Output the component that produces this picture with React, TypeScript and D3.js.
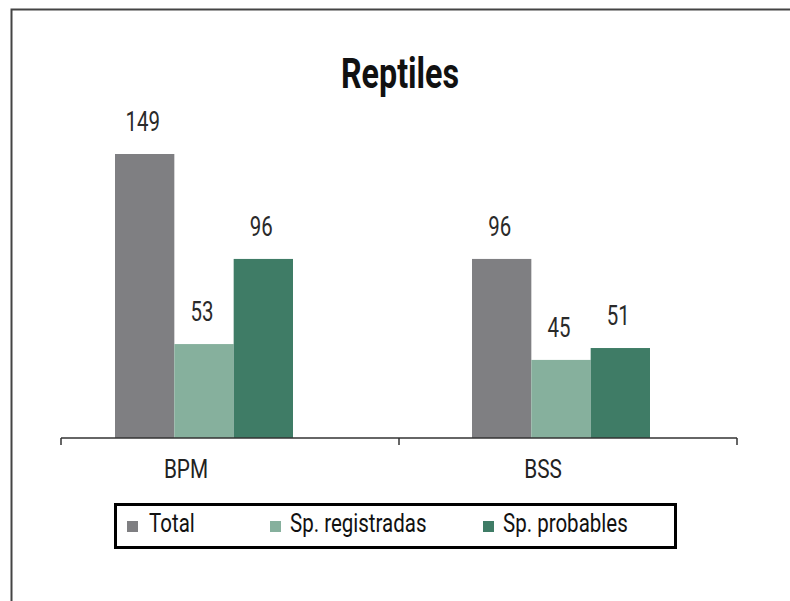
import React from "react";
import * as d3 from "d3";

const categories = ["BPM", "BSS"];
const seriesNames = ["Total", "Sp. registradas", "Sp. probables"];
const totalValues = [149, 96];
const registradasValues = [53, 45];
const probablesValues = [96, 51];
const seriesColors = ["#7f7f82", "#86b09d", "#3f7c66"];
const chartTitle = "Reptiles";

const W = 790;
const H = 601;
const FONT = "Roboto, 'Liberation Sans', sans-serif";

function CText(props: {
  x: number;
  y: number;
  sx: number;
  size: number;
  anchor?: string;
  weight?: string;
  fill?: string;
  children: React.ReactNode;
}) {
  return (
    <text
      transform={`translate(${props.x},${props.y}) scale(${props.sx},1)`}
      textAnchor={props.anchor || "start"}
      fontFamily={FONT}
      fontSize={props.size}
      fontWeight={props.weight || "normal"}
      fill={props.fill || "#222"}
    >
      {props.children}
    </text>
  );
}

export default function App() {
  const baseY = 438;
  const y = d3.scaleLinear().domain([0, 149]).range([449, 154]);
  const axisX = d3.scaleBand<string>().domain(categories).range([61, 737]);
  const groupX = d3.scaleBand<string>().domain(categories).range([115, 829]);
  const barX = d3.scaleBand<string>().domain(seriesNames).range([0, 178]);
  const values = [totalValues, registradasValues, probablesValues];

  const ticks = [61, ...categories.map((c) => axisX(c)! + axisX.bandwidth())];

  const legendSquareX = [127, 270, 483];
  const legendTextX = [149, 290, 503];

  return (
    <div style={{ position: "absolute", left: 0, top: 0, margin: 0 }}>
      <svg width={W} height={H} style={{ display: "block", background: "#fff" }}>
        <rect x={11.5} y={9.5} width={900} height={700} fill="none" stroke="#444" strokeWidth={2} />
        <CText x={400} y={88} sx={0.75} size={43} anchor="middle" weight="bold" fill="#111">
          {chartTitle}
        </CText>
        {categories.map((c, ci) => (
          <g key={c} transform={`translate(${groupX(c)},0)`}>
            {seriesNames.map((s, si) => {
              const v = values[si][ci];
              const bx = barX(s)!;
              return (
                <g key={s}>
                  <rect x={bx} y={y(v)} width={barX.bandwidth()} height={baseY - y(v)} fill={seriesColors[si]} />
                  <CText x={bx + barX.bandwidth() / 2 - 2} y={y(v) - 23} sx={0.73} size={28} anchor="middle" fill="#2a2a2a">
                    {v}
                  </CText>
                </g>
              );
            })}
            <CText x={89 - 18} y={478} sx={0.8} size={26} anchor="middle" fill="#222">
              {c}
            </CText>
          </g>
        ))}
        <line x1={61} x2={737} y1={baseY} y2={baseY} stroke="#333" strokeWidth={1.5} />
        {ticks.map((t, i) => (
          <line key={i} x1={t} x2={t} y1={baseY} y2={baseY + 7} stroke="#333" strokeWidth={1.5} />
        ))}
        <rect x={115.5} y={504.5} width={560} height={43} fill="none" stroke="#000" strokeWidth={3} />
        {seriesNames.map((s, i) => (
          <g key={s}>
            <rect x={legendSquareX[i]} y={521} width={11} height={11} fill={seriesColors[i]} />
            <CText x={legendTextX[i]} y={532} sx={0.82} size={25} fill="#111">
              {s}
            </CText>
          </g>
        ))}
      </svg>
    </div>
  );
}
